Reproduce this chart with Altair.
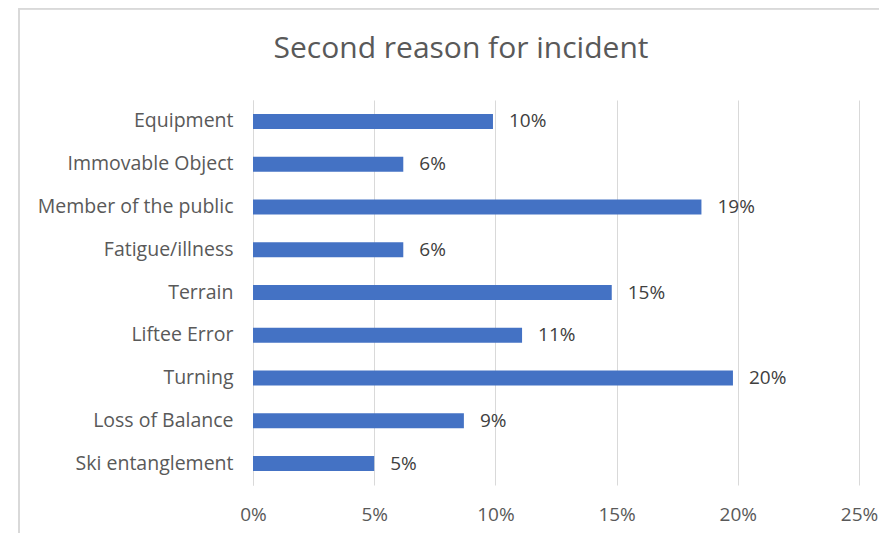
import altair as alt
import pandas as pd

categories = ["Equipment", "Immovable Object", "Member of the public", "Fatigue/illness",
              "Terrain", "Liftee Error", "Turning", "Loss of Balance", "Ski entanglement"]
values = [0.099, 0.062, 0.185, 0.062, 0.148, 0.111, 0.198, 0.087, 0.050]
x_ticks = [0, 0.05, 0.10, 0.15, 0.20, 0.25]

df = pd.DataFrame({"reason": categories, "share": values})

W, H = 606, 385
PAD = {"left": 245, "top": 92, "right": 20, "bottom": 48}
FONT = "Open Sans"
GREY = "#595959"
BORDER = "#D9D9D9"

base = alt.Chart(df)

bars = base.mark_bar(color="#4472C4", size=15).encode(
    y=alt.Y("reason:N", sort=categories, title=None,
            axis=alt.Axis(ticks=False, labelPadding=20, labelFontSize=19.5,
                          labelFont=FONT, labelColor=GREY, domainColor=BORDER,
                          labelLimit=300)),
    x=alt.X("share:Q", title=None,
            scale=alt.Scale(domain=[0, 0.25], nice=False),
            axis=alt.Axis(values=x_ticks, format=".0%", ticks=False, domain=False,
                          grid=True, gridColor=BORDER, labelFont=FONT,
                          labelFontSize=19, labelColor=GREY, labelPadding=20,
                          labelFlush=False)),
)

labels = base.mark_text(align="left", baseline="middle", dx=16, font=FONT,
                        fontSize=19, color="#404040").encode(
    y=alt.Y("reason:N", sort=categories),
    x="share:Q",
    text=alt.Text("share:Q", format=".0%"),
)

border_left = alt.Chart(df).mark_rule(color=BORDER, strokeWidth=1.5).encode(
    x=alt.value(-234), y=alt.value(-91.5), y2=alt.value(H + PAD["bottom"]))
border_top = alt.Chart(df).mark_rule(color=BORDER, strokeWidth=1.5).encode(
    x=alt.value(-234), x2=alt.value(W + PAD["right"]), y=alt.value(-91.5))

chart = alt.layer(border_left, border_top, bars, labels).properties(
    width=W, height=H,
    padding=PAD,
    autosize=alt.AutoSizeParams(type="none"),
    title=alt.TitleParams("Second reason for incident", font=FONT, fontSize=30,
                          fontWeight="normal", color=GREY, anchor="middle",
                          frame="group", dx=-95, offset=0, dy=80,
                          baseline="alphabetic"),
).configure_view(stroke=None)

chart.save("out.html", embed_options={"renderer": "svg", "actions": False})
